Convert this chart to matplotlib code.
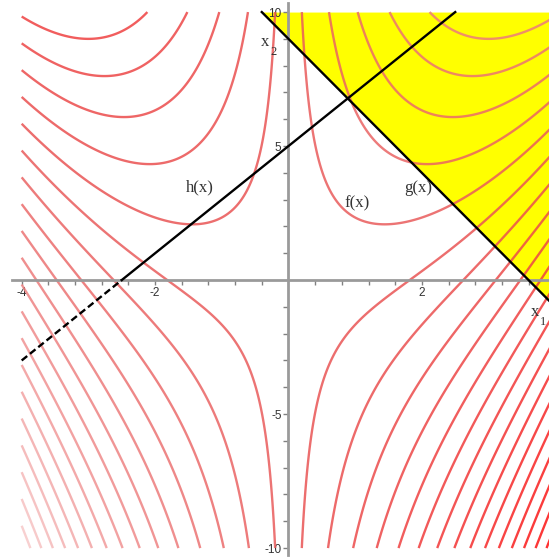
import numpy as np
import matplotlib
matplotlib.use("Agg")
import matplotlib.pyplot as plt
from matplotlib.colors import LinearSegmentedColormap, Normalize

# objective f(x) = x1*x2 - x1^3/3, contour levels (step 4)
contour_levels = [-62, -58, -54, -50, -46, -42, -38, -34, -30, -26, -22, -18,
                  -14, -10, -6, -2, 2, 6, 10, 14, 18, 22, 26, 30, 34, 38,
                  42, 46, 50, 54, 58, 62]

# h(x): x2 = 2*x1 + 5   g(x): x2 = 9 - 2.5*x1
h_slope, h_icpt = 2.0, 5.0
g_slope, g_icpt = -2.5, 9.0

x_tick_labels = {-4: '-4', -2: '-2', 2: '2'}
y_tick_labels = {-10: '-10', -5: '-5', 5: '5', 10: '10'}

fig = plt.figure(figsize=(5.49, 5.58), dpi=100)
ax = fig.add_axes([0, 0, 1, 1])
ax.set_xlim(-4.325, 3.906)
ax.set_ylim(-10.37, 10.45)

# grid for the contours
x1 = np.linspace(-4, 4, 700)
x2 = np.linspace(-10, 10, 700)
X1, X2 = np.meshgrid(x1, x2)
F = X1 * X2 - X1 ** 3 / 3.0

# feasible region (yellow) above g, capped at x2 = 10
gx = np.linspace((10 - g_icpt) / g_slope, 4, 50)
ax.fill_between(gx, g_slope * gx + g_icpt, 10, color='#ffff00', lw=0, zorder=1)

cmap = LinearSegmentedColormap.from_list('maple', ['#ff0a0a', '#e85858', '#f8d0d0'])
ax.contour(X1, X2, F, levels=contour_levels, cmap=cmap,
           norm=Normalize(-62, 62), linewidths=1.7, alpha=0.85, zorder=2)

# h line: dashed below the x1 axis, solid above
hx_neg = np.linspace(-4, -h_icpt / h_slope, 20)
hx_pos = np.linspace(-h_icpt / h_slope, (10 - h_icpt) / h_slope, 20)
ax.plot(hx_neg, h_slope * hx_neg + h_icpt, color='black', lw=1.7,
        ls=(0, (3, 1.5)), zorder=4)
ax.plot(hx_pos, h_slope * hx_pos + h_icpt, color='black', lw=1.7, zorder=4)

# g line
gl = np.linspace((10 - g_icpt) / g_slope, 4, 20)
ax.plot(gl, g_slope * gl + g_icpt, color='black', lw=1.7, zorder=4)

# axes through the origin, Maple style
for s in ['top', 'right']:
    ax.spines[s].set_visible(False)
ax.spines['left'].set_position(('data', 0))
ax.spines['bottom'].set_position(('data', 0))
ax.spines['bottom'].set_bounds(-4.15, 3.95)
ax.spines['left'].set_bounds(-10.25, 10.35)
for s in ['left', 'bottom']:
    ax.spines[s].set_color('#9a9a9a')
    ax.spines[s].set_linewidth(2)
    ax.spines[s].set_zorder(3)

xt = [round(-4 + 0.4 * i, 1) for i in range(20) if abs(-4 + 0.4 * i) > 1e-9]
ax.set_xticks(xt)
ax.set_xticklabels([x_tick_labels.get(int(round(t)), '') if abs(t - round(t)) < 1e-6 else '' for t in xt])
yt = [t for t in range(-10, 11) if t != 0]
ax.set_yticks(yt)
ax.set_yticklabels([y_tick_labels.get(t, '') for t in yt])
ax.tick_params(axis='both', direction='out', length=3.5, width=1, color='#808080',
               labelsize=8.5, pad=1.5, labelcolor='#333333')
for lab in ax.get_xticklabels() + ax.get_yticklabels():
    lab.set_family('Liberation Sans')

serif = 'Liberation Serif'
ax.text(-1.33, 3.47, 'h(x)', fontsize=12, family=serif, ha='center', va='center', color='#333333', zorder=5)
ax.text(1.03, 2.87, 'f(x)', fontsize=12, family=serif, ha='center', va='center', color='#333333', zorder=5)
ax.text(1.94, 3.43, 'g(x)', fontsize=12, family=serif, ha='center', va='center', color='#333333', zorder=5)

ax.text(-0.35, 8.9, 'x', fontsize=12, family=serif, ha='center', va='center', color='#333333', zorder=5)
ax.text(-0.23, 8.5, '2', fontsize=9, family=serif, ha='center', va='center', color='#333333', zorder=5)
ax.text(3.70, -1.19, 'x', fontsize=12, family=serif, ha='center', va='center', color='#333333', zorder=5)
ax.text(3.82, -1.55, '1', fontsize=9, family=serif, ha='center', va='center', color='#333333', zorder=5)

fig.savefig('out.png', dpi=100)
